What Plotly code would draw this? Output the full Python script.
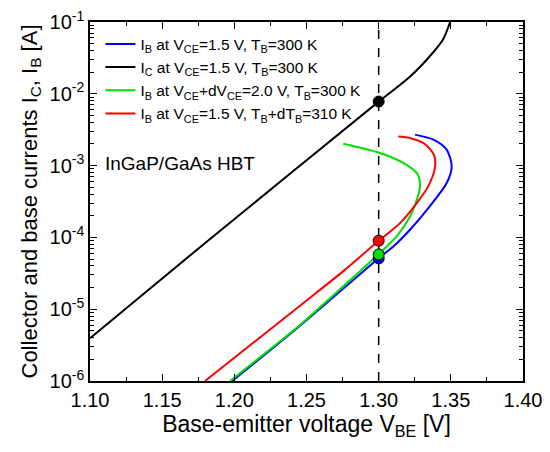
import plotly.graph_objects as go

# operating point (dashed line and dots)
VBE_OP = 1.30

# I_C at VCE=1.5 V, TB=300 K
vbe_ic = [1.100, 1.176, 1.300, 1.3218, 1.3377, 1.3446, 1.3495]
ic = [3.94e-6, 7.24e-5, 7.78e-3, 1.74e-2, 3.76e-2, 5.70e-2, 1.0e-1]

# I_B at VCE=1.5 V, TB=300 K
vbe_ib = [1.1985, 1.2455, 1.300, 1.3101, 1.3217, 1.3344, 1.3471, 1.3506, 1.3471, 1.3379, 1.3252]
ib = [1.0e-6, 5.89e-6, 5.14e-5, 7.46e-5, 1.28e-4, 2.56e-4, 5.71e-4, 9.75e-4, 1.67e-3, 2.30e-3, 2.70e-3]

# I_B at VCE+dVCE=2.0 V, TB=300 K
vbe_ib_dv = [1.197, 1.2455, 1.2663, 1.2871, 1.300, 1.3125, 1.3217, 1.3264, 1.3286, 1.3270,
             1.3170, 1.3009, 1.2755]
ib_dv = [1.0e-6, 6.03e-6, 1.42e-5, 3.39e-5, 5.85e-5, 1.03e-4, 1.95e-4, 3.34e-4, 5.01e-4, 7.59e-4,
         1.09e-3, 1.50e-3, 2.02e-3]

# I_B at VCE=1.5 V, TB+dTB=310 K
vbe_ib_dt = [1.1797, 1.2455, 1.2755, 1.300, 1.3148, 1.3264, 1.3340, 1.3388, 1.3385, 1.3320,
             1.3217, 1.3136]
ib_dt = [1.0e-6, 1.12e-5, 3.39e-5, 8.97e-5, 1.58e-4, 3.01e-4, 5.01e-4, 8.91e-4, 1.38e-3, 2.00e-3,
         2.43e-3, 2.55e-3]

# dots at the operating point: (current, colour)
op_points = [(7.8e-3, 'black'), (5.1e-5, 'blue'), (5.8e-5, '#00e000'), (9.0e-5, 'red')]

x_ticks = [1.10, 1.15, 1.20, 1.25, 1.30, 1.35, 1.40]
y_ticks = [1e-6, 1e-5, 1e-4, 1e-3, 1e-2, 1e-1]
y_ticktext = ['10<sup>-6</sup>', '10<sup>-5</sup>', '10<sup>-4</sup>',
              '10<sup>-3</sup>', '10<sup>-2</sup>', '10<sup>-1</sup>']

FONT = 'Liberation Sans, Arial, sans-serif'

fig = go.Figure()

# dashed vertical line at the operating point
fig.add_trace(go.Scatter(x=[VBE_OP, VBE_OP], y=[1e-6, 1e-1], mode='lines',
                         line=dict(color='black', width=1.5, dash='dash'),
                         showlegend=False, hoverinfo='skip'))

curves = [
    (vbe_ib, ib, 'blue', 'I<sub>B</sub> at V<sub>CE</sub>=1.5 V, T<sub>B</sub>=300 K', 1),
    (vbe_ic, ic, 'black', 'I<sub>C</sub> at V<sub>CE</sub>=1.5 V, T<sub>B</sub>=300 K', 2),
    (vbe_ib_dv, ib_dv, '#00e000', 'I<sub>B</sub> at V<sub>CE</sub>+dV<sub>CE</sub>=2.0 V, T<sub>B</sub>=300 K', 3),
    (vbe_ib_dt, ib_dt, 'red', 'I<sub>B</sub> at V<sub>CE</sub>=1.5 V, T<sub>B</sub>+dT<sub>B</sub>=310 K', 4),
]
for xs, ys, color, name, rank in curves:
    fig.add_trace(go.Scatter(x=xs, y=ys, mode='lines', name=name,
                             line=dict(color=color, width=2, shape='spline', smoothing=0.8),
                             legendrank=rank))

for cur, color in op_points:
    fig.add_trace(go.Scatter(x=[VBE_OP], y=[cur], mode='markers',
                             marker=dict(color=color, size=11, line=dict(color='black', width=1)),
                             showlegend=False))

fig.add_annotation(x=0.03, y=0.605, xref='paper', yref='paper', xanchor='left', yanchor='middle',
                   text='InGaP/GaAs HBT', showarrow=False,
                   font=dict(family=FONT, size=19, color='black'))

axis_common = dict(showline=True, linecolor='black', linewidth=1.5, mirror='ticks',
                   ticks='inside', tickcolor='black', ticklen=7, tickwidth=1.2,
                   showgrid=False, zeroline=False, automargin=False,
                   ticklabeloverflow='allow',
                   tickfont=dict(family=FONT, size=20, color='black'))

fig.update_xaxes(range=[1.10, 1.40], tickvals=x_ticks, ticktext=[f'{v:.2f}' for v in x_ticks],
                 minor=dict(ticks='inside', ticklen=4, dtick=0.025, tick0=1.10, tickcolor='black'),
                 title=dict(text='Base-emitter voltage V<sub>BE</sub> [V]', standoff=6,
                            font=dict(family=FONT, size=23, color='black')),
                 **axis_common)
fig.update_yaxes(type='log', range=[-6, -1], tickvals=y_ticks, ticktext=y_ticktext,
                 minor=dict(ticks='inside', ticklen=4, dtick='D1', tickcolor='black'),
                 title=dict(text='Collector and base currents I<sub>C</sub>, I<sub>B</sub> [A]', standoff=6,
                            font=dict(family=FONT, size=22, color='black')),
                 **axis_common)

# the page puts the figure 8 px in from the top-left corner
fig.update_layout(
    width=550, height=452,
    margin=dict(l=82, r=35, t=14, b=79),
    plot_bgcolor='white', paper_bgcolor='white',
    font=dict(family=FONT, color='black'),
    legend=dict(x=0.024, y=0.985, xanchor='left', yanchor='top', bgcolor='rgba(0,0,0,0)',
                font=dict(family=FONT, size=15.5, color='black'), tracegroupgap=0),
)

fig.write_html("out.html")
